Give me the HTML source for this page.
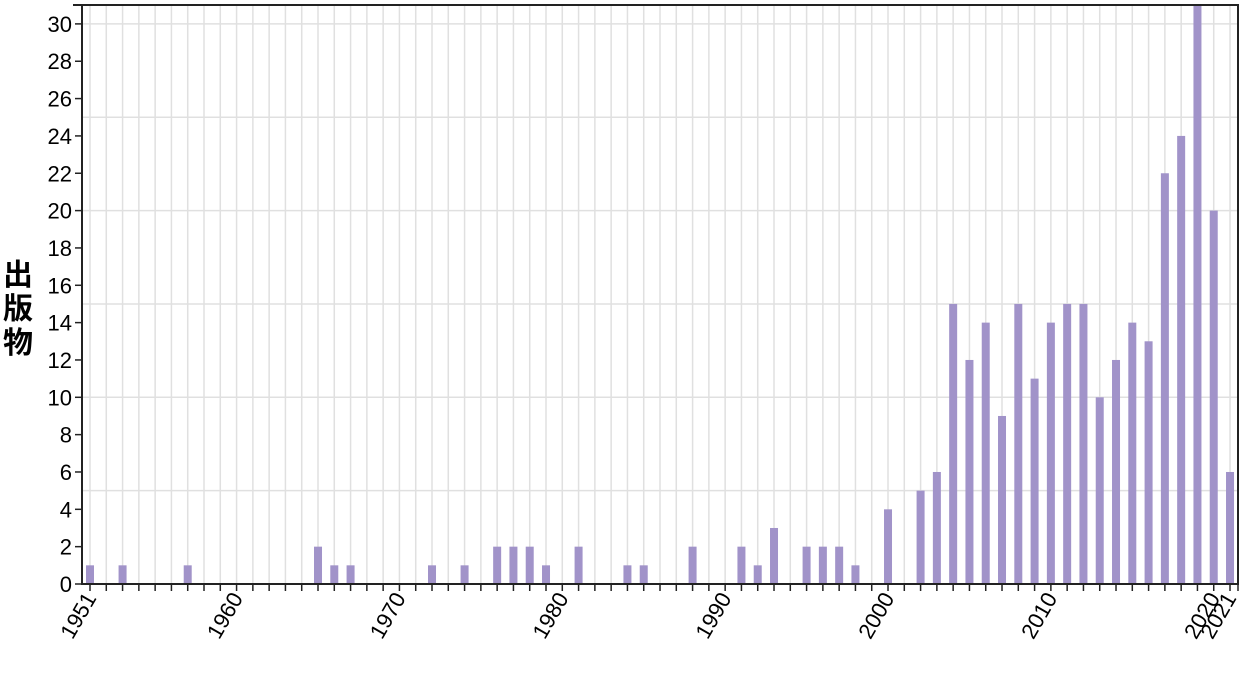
<!DOCTYPE html>
<html><head><meta charset="utf-8"><style>
html,body{margin:0;padding:0;background:#fff;width:1246px;height:694px;overflow:hidden}
svg{display:block;font-family:"Liberation Sans","Noto Sans CJK JP",sans-serif}
</style></head><body>
<svg id="c" width="1246" height="694" xmlns="http://www.w3.org/2000/svg"></svg>
<script>
const s=document.getElementById('c');
const X0=90,DX=16.286,Y0=584,DY=18.67;
const x=y=>X0+(y-1951)*DX, yv=v=>Y0-v*DY;
let h='';
for(let yr=1951;yr<=2021;yr++){h+=`<line x1="${x(yr)}" x2="${x(yr)}" y1="5" y2="584" stroke="#e0e0e0" stroke-width="1.5"/>`;}
for(let v=5;v<=30;v+=5){h+=`<line x1="82" x2="1238" y1="${yv(v)}" y2="${yv(v)}" stroke="#e0e0e0" stroke-width="1.5"/>`;}
const d={1951:1,1953:1,1957:1,1965:2,1966:1,1967:1,1972:1,1974:1,1976:2,1977:2,1978:2,1979:1,1981:2,1984:1,1985:1,1988:2,1991:2,1992:1,1993:3,1995:2,1996:2,1997:2,1998:1,2000:4,2002:5,2003:6,2004:15,2005:12,2006:14,2007:9,2008:15,2009:11,2010:14,2011:15,2012:15,2013:10,2014:12,2015:14,2016:13,2017:22,2018:24,2019:31,2020:20,2021:6};
for(const k in d){h+=`<rect x="${x(+k)-4}" y="${yv(d[k])}" width="8" height="${d[k]*DY}" fill="#a193c9"/>`;}
h+=`<line x1="73" x2="1239" y1="5" y2="5" stroke="#222" stroke-width="2"/>`;
h+=`<line x1="82" x2="82" y1="4" y2="585" stroke="#222" stroke-width="2"/>`;
h+=`<line x1="1238" x2="1238" y1="4" y2="585" stroke="#222" stroke-width="2"/>`;
h+=`<line x1="81" x2="1239" y1="584" y2="584" stroke="#222" stroke-width="2"/>`;
for(let yr=1951;yr<=2021;yr++){h+=`<line x1="${x(yr)}" x2="${x(yr)}" y1="584" y2="591" stroke="#222" stroke-width="1.5"/>`;}
h+=`<line x1="1238" x2="1238" y1="584" y2="591" stroke="#222" stroke-width="1.5"/>`;
for(let v=0;v<=30;v+=2){const yy=yv(v);h+=`<line x1="75" x2="82" y1="${yy}" y2="${yy}" stroke="#222" stroke-width="1.5"/><text x="72" y="${yy+8}" text-anchor="end" font-size="22" fill="#000">${v}</text>`;}
[1951,1960,1970,1980,1990,2000,2010,2020,2021].forEach(yr=>{const xx=x(yr)+7;h+=`<text x="${xx}" y="598" text-anchor="end" font-size="22" transform="rotate(-60 ${xx} 598)" fill="#000">${yr}</text>`;});
['出','版','物'].forEach((c,i)=>{h+=`<text x="18" y="${285+i*34}" font-size="30" font-weight="bold" text-anchor="middle" fill="#000">${c}</text>`;});
s.innerHTML=h;
</script>
</body></html>
